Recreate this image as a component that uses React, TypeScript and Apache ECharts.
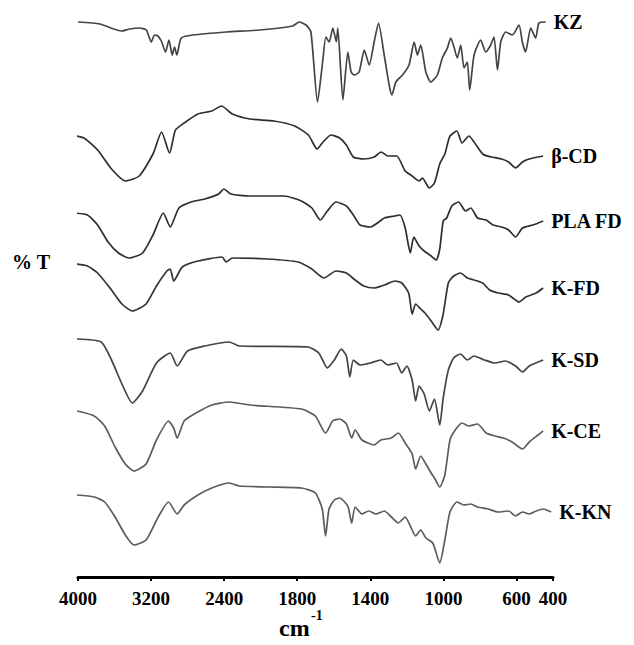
import React, { useEffect, useRef } from "react";
import * as echarts from "echarts";

// Wavenumber (cm-1) ticks of the x axis (scale expanded 2x below 2000 cm-1)
const TICK_WAVENUMBERS = [4000, 3200, 2400, 1800, 1400, 1000, 600, 400];

// Spectra: [wavenumber cm-1, %T (offset, arbitrary units)]
const KZ: [number, number][] = [
  [4000, 555], [3760, 553], [3525, 546], [3435, 548], [3326, 549], [3252, 547], [3198, 535], [3162, 542],
  [3126, 541], [3088, 536], [3041, 525], [3005, 537], [2968, 522], [2943, 530], [2918, 522], [2870, 539],
  [2743, 542], [2378, 545], [2014, 547], [1825, 551], [1789, 555], [1752, 552], [1725, 545], [1689, 475],
  [1661, 515], [1643, 540], [1625, 535], [1605, 549], [1586, 535], [1578, 549], [1550, 477], [1523, 525],
  [1505, 505], [1488, 502], [1461, 505], [1433, 527], [1406, 512], [1379, 535], [1355, 554], [1324, 522],
  [1297, 492], [1282, 482], [1260, 495], [1224, 502], [1188, 512], [1160, 535], [1142, 522], [1124, 532],
  [1096, 505], [1069, 495], [1033, 502], [1006, 519], [978, 529], [960, 539], [942, 530], [924, 519],
  [905, 532], [887, 509], [869, 515], [856, 487], [832, 522], [796, 537], [768, 525], [741, 532],
  [723, 540], [704, 507], [686, 535], [659, 545], [622, 542], [586, 552], [568, 535], [550, 525],
  [522, 549], [495, 539], [477, 554], [440, 555],
];

const BETA_CD: [number, number][] = [
  [4086, 442], [3936, 439], [3785, 427], [3633, 408], [3482, 396], [3330, 401], [3179, 423], [3085, 445],
  [2998, 424], [2933, 447], [2838, 454], [2687, 463], [2536, 466], [2429, 471], [2309, 463], [2120, 458],
  [1928, 456], [1814, 451], [1739, 442], [1691, 428], [1663, 434], [1616, 442], [1568, 439], [1531, 432],
  [1493, 420], [1436, 418], [1379, 420], [1341, 425], [1304, 421], [1256, 421], [1209, 406], [1171, 401],
  [1133, 396], [1115, 399], [1077, 389], [1049, 394], [1020, 413], [992, 423], [964, 441], [926, 446],
  [898, 434], [860, 441], [832, 435], [785, 423], [738, 420], [681, 418], [643, 415], [605, 409],
  [567, 415], [530, 418], [454, 421],
];

const PLA_FD: [number, number][] = [
  [4049, 364], [3897, 362], [3785, 352], [3671, 335], [3557, 324], [3444, 319], [3293, 324], [3179, 342],
  [3066, 364], [2990, 350], [2895, 369], [2763, 375], [2612, 378], [2460, 383], [2403, 388], [2328, 383],
  [2120, 381], [1871, 381], [1777, 376], [1720, 369], [1673, 357], [1635, 366], [1588, 375], [1531, 371],
  [1493, 362], [1456, 352], [1399, 350], [1361, 354], [1323, 359], [1266, 361], [1238, 362], [1209, 349],
  [1181, 324], [1162, 340], [1133, 331], [1105, 326], [1067, 321], [1039, 317], [1020, 328], [1001, 356],
  [982, 359], [954, 371], [917, 375], [879, 366], [850, 369], [813, 359], [766, 357], [728, 352],
  [681, 350], [643, 347], [605, 340], [567, 349], [510, 352], [454, 356],
];

const K_FD: [number, number][] = [
  [4030, 313], [3897, 311], [3785, 304], [3633, 287], [3519, 273], [3405, 266], [3255, 273], [3141, 291],
  [3027, 306], [2990, 308], [2952, 296], [2858, 310], [2687, 316], [2423, 320], [2378, 315], [2309, 319],
  [1966, 318], [1795, 315], [1720, 308], [1654, 299], [1588, 306], [1531, 304], [1483, 297], [1436, 291],
  [1379, 289], [1323, 292], [1266, 296], [1228, 294], [1190, 284], [1171, 263], [1152, 273], [1124, 268],
  [1096, 263], [1067, 256], [1029, 247], [1001, 263], [973, 294], [944, 301], [907, 304], [869, 299],
  [832, 297], [785, 294], [747, 287], [700, 284], [643, 282], [586, 275], [549, 280], [492, 284],
  [454, 289],
];

const K_SD: [number, number][] = [
  [4011, 238], [3746, 235], [3633, 217], [3519, 193], [3405, 174], [3293, 186], [3141, 214], [2990, 224],
  [2915, 211], [2801, 226], [2612, 231], [2346, 235], [2233, 231], [1739, 230], [1682, 224], [1635, 209],
  [1597, 217], [1559, 228], [1531, 221], [1512, 200], [1493, 217], [1456, 212], [1399, 214], [1342, 217],
  [1304, 212], [1257, 214], [1228, 204], [1200, 211], [1171, 197], [1152, 176], [1133, 191], [1105, 183],
  [1077, 166], [1049, 178], [1020, 152], [1001, 179], [973, 207], [944, 219], [907, 223], [869, 217],
  [832, 221], [775, 217], [718, 214], [661, 216], [605, 211], [567, 205], [530, 211], [454, 217],
];

const K_CE: [number, number][] = [
  [4011, 166], [3822, 161], [3708, 151], [3594, 130], [3482, 113], [3387, 106], [3255, 113], [3141, 137],
  [3009, 156], [2952, 149], [2915, 139], [2838, 156], [2687, 165], [2536, 172], [2346, 175], [2120, 172],
  [1777, 168], [1701, 161], [1645, 144], [1606, 156], [1568, 158], [1531, 153], [1502, 139], [1483, 147],
  [1446, 137], [1379, 132], [1342, 137], [1285, 139], [1247, 144], [1209, 134], [1171, 123], [1152, 108],
  [1124, 121], [1096, 113], [1067, 104], [1049, 99], [1020, 90], [992, 102], [964, 137], [935, 147],
  [898, 154], [860, 151], [813, 153], [766, 144], [718, 141], [671, 139], [624, 135], [567, 128],
  [530, 135], [482, 142], [454, 146],
];

const K_KN: [number, number][] = [
  [4011, 82], [3822, 80], [3708, 75], [3594, 60], [3482, 42], [3387, 32], [3255, 37], [3122, 60],
  [3009, 75], [2915, 63], [2838, 72], [2687, 82], [2536, 89], [2346, 94], [2233, 91], [1966, 90],
  [1777, 89], [1701, 84], [1663, 68], [1645, 41], [1626, 68], [1597, 77], [1568, 79], [1540, 75],
  [1521, 70], [1502, 54], [1483, 70], [1446, 63], [1408, 66], [1370, 63], [1323, 66], [1285, 60],
  [1247, 54], [1209, 60], [1181, 51], [1152, 41], [1124, 47], [1096, 39], [1058, 34], [1020, 14],
  [992, 37], [964, 65], [926, 75], [888, 72], [850, 73], [813, 70], [756, 68], [700, 65],
  [643, 66], [605, 61], [567, 65], [530, 63], [492, 66], [454, 68], [410, 65],
];

const SERIES_NAMES = ["KZ", "β-CD", "PLA FD", "K-FD", "K-SD", "K-CE", "K-KN"];
const SERIES_DATA = [KZ, BETA_CD, PLA_FD, K_FD, K_SD, K_CE, K_KN];
const SERIES_COLORS = ["#444444", "#2e2e2e", "#2e2e2e", "#333333", "#444444", "#5c5c5c", "#5c5c5c"];

// Axis position in tick steps: 800 cm-1 per step above 2000, 400 cm-1 per step below (2x expansion)
function toPos(w: number): number {
  if (w >= 2000) return (4000 - w) / 800;
  return 2.5 + (2000 - w) / 400;
}

const FONT = "'Liberation Serif', 'Times New Roman', serif";

export default function App() {
  const ref = useRef<HTMLDivElement>(null);
  useEffect(() => {
    if (!ref.current) return;
    const chart = echarts.init(ref.current, undefined, { renderer: "svg" });
    const tickPos = TICK_WAVENUMBERS.map(toPos);
    chart.setOption({
      animation: false,
      backgroundColor: "#ffffff",
      grid: { left: 78, right: 81, top: 0, bottom: 68, containLabel: false },
      xAxis: {
        type: "value",
        min: 0,
        max: toPos(400),
        splitLine: { show: false },
        axisLine: { show: true, lineStyle: { color: "#000", width: 3 } },
        axisTick: { show: true, customValues: tickPos, length: 4, lineStyle: { color: "#000", width: 2 } },
        axisLabel: {
          show: true,
          customValues: tickPos,
          margin: 12,
          fontFamily: FONT,
          fontWeight: "bold",
          fontSize: 19,
          color: "#000",
          formatter: (val: number) => {
            let best = TICK_WAVENUMBERS[0];
            let bd = Infinity;
            TICK_WAVENUMBERS.forEach((w) => {
              const d = Math.abs(toPos(w) - val);
              if (d < bd) { bd = d; best = w; }
            });
            return String(best);
          },
        },
      },
      yAxis: { type: "value", min: 0, max: 577, show: false },
      series: SERIES_DATA.map((arr, i) => ({
        name: SERIES_NAMES[i],
        type: "line",
        showSymbol: false,
        clip: false,
        smooth: 0.2,
        lineStyle: { color: SERIES_COLORS[i], width: 1.7 },
        data: arr.map(([w, v]) => [toPos(w), v]),
        endLabel: {
          show: true,
          formatter: SERIES_NAMES[i],
          distance: 8,
          fontFamily: FONT,
          fontWeight: "bold",
          fontSize: 20,
          color: "#000",
        },
      })),
      graphic: [
        {
          type: "text",
          left: 12,
          top: 252,
          style: { text: "% T", fontFamily: FONT, fontWeight: "bold", fontSize: 20, fill: "#000" },
        },
        {
          type: "text",
          left: 279,
          top: 616,
          style: { text: "cm", fontFamily: FONT, fontWeight: "bold", fontSize: 24, fill: "#000" },
        },
        {
          type: "text",
          left: 311,
          top: 608,
          style: { text: "-1", fontFamily: FONT, fontWeight: "bold", fontSize: 14, fill: "#000" },
        },
      ],
    });
    return () => chart.dispose();
  }, []);
  return (
    <div
      ref={ref}
      style={{ position: "fixed", left: 0, top: 0, width: 634, height: 645, background: "#fff" }}
    />
  );
}
